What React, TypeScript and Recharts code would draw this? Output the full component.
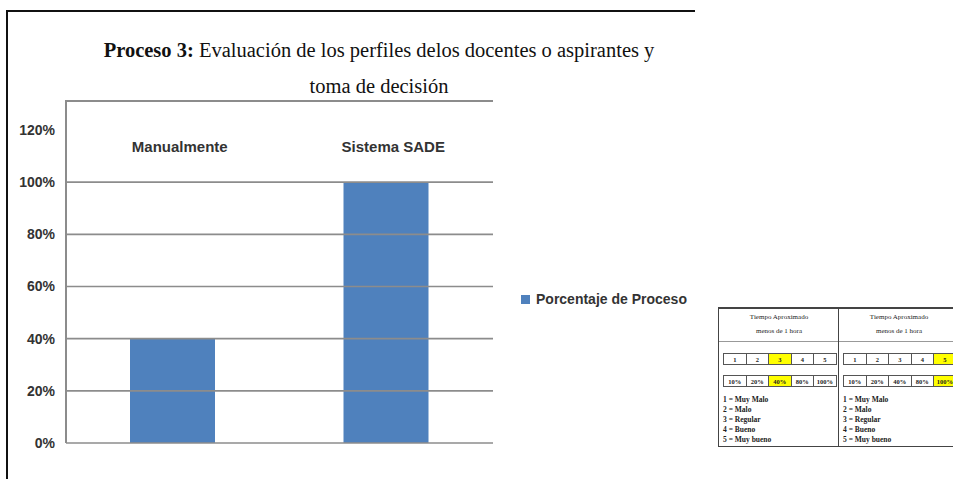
import React from "react";
import { BarChart, Bar, XAxis, YAxis, ReferenceLine, Legend } from "recharts";

// chart data
const categories = ["Manualmente", "Sistema SADE"];
const porcentajes = [0.4, 1.0];
const seriesName = "Porcentaje de Proceso";
const yTicks = [0, 0.2, 0.4, 0.6, 0.8, 1.0, 1.2];
const gridValues = [0, 0.2, 0.4, 0.6, 0.8, 1.0];

const titleBold = "Proceso 3:";
const titleRest = " Evaluación de los perfiles delos docentes o aspirantes y";
const titleLine2 = "toma de decisión";

// small scale table next to the chart
const escala = ["1", "2", "3", "4", "5"];
const escalaPct = ["10%", "20%", "40%", "80%", "100%"];
const escalaTexto = ["1 = Muy Malo", "2 = Malo", "3 = Regular", "4 = Bueno", "5 = Muy bueno"];
const seleccion = [2, 4];

const data = categories.map((name, i) => ({ name, value: porcentajes[i] }));

const sans = "'Liberation Sans', Arial, sans-serif";
const serif = "'Liberation Serif', 'Times New Roman', serif";
const barColor = "#4f81bd";
const gridColor = "#8c8c8c";

const CategoryTick = (props: any) => {
    const { x, y, payload } = props;
    return (
        <text
            x={x}
            y={y}
            dx={7}
            dy={22}
            textAnchor="middle"
            fontFamily={sans}
            fontWeight="bold"
            fontSize={15}
            fill="#333"
        >
            {payload.value}
        </text>
    );
};

const LegendContent = () => (
    <div
        style={{
            display: "flex",
            alignItems: "center",
            whiteSpace: "nowrap",
            fontFamily: sans,
            fontWeight: "bold",
            fontSize: 14,
            color: "#333",
            lineHeight: "20px",
        }}
    >
        <span
            style={{
                display: "inline-block",
                width: 9,
                height: 9,
                background: barColor,
                marginRight: 6,
            }}
        />
        {seriesName}
    </div>
);

const Casilla = ({ text, on, w }: { text: string; on: boolean; w: number }) => (
    <div
        style={{
            width: w,
            height: 12,
            boxSizing: "border-box",
            border: "1px solid #555",
            marginLeft: -1,
            background: on ? "#ffff00" : "#fff",
            textAlign: "center",
            lineHeight: "11px",
            fontSize: 6.5,
            fontWeight: "bold",
        }}
    >
        {text}
    </div>
);

const TablaColumna = ({ left, sel }: { left: number; sel: number }) => (
    <div
        style={{
            position: "absolute",
            left,
            top: 0,
            width: 120,
            height: 138,
            borderLeft: "1.5px solid #444",
            fontFamily: serif,
            color: "#222",
        }}
    >
        <div
            style={{
                height: 33,
                borderBottom: "1px solid #999",
                textAlign: "center",
                fontSize: 7,
                lineHeight: "14px",
                paddingTop: 1,
                boxSizing: "border-box",
            }}
        >
            <div>Tiempo Aproximado</div>
            <div>menos de 1 hora</div>
        </div>
        <div style={{ position: "absolute", left: 5, top: 44, display: "flex" }}>
            {escala.map((t, i) => (
                <Casilla key={t} text={t} on={i === sel} w={23.5} />
            ))}
        </div>
        <div style={{ position: "absolute", left: 5, top: 66, display: "flex" }}>
            {escalaPct.map((t, i) => (
                <Casilla key={t} text={t} on={i === sel} w={23.5} />
            ))}
        </div>
        <div
            style={{
                position: "absolute",
                left: 4,
                top: 86,
                fontSize: 7.5,
                fontWeight: "bold",
                lineHeight: "10px",
            }}
        >
            {escalaTexto.map((t) => (
                <div key={t}>{t}</div>
            ))}
        </div>
    </div>
);

export default function App() {
    return (
        <div
            style={{
                position: "absolute",
                left: 0,
                top: 0,
                width: 953,
                height: 479,
                overflow: "hidden",
                background: "#fff",
            }}
        >
            {/* outer frame */}
            <div
                style={{
                    position: "absolute",
                    left: 6,
                    top: 10,
                    width: 687,
                    height: 480,
                    borderLeft: "2px solid #111",
                    borderTop: "2px solid #111",
                }}
            />
            {/* title */}
            <div
                style={{
                    position: "absolute",
                    left: 79,
                    top: 32,
                    width: 600,
                    textAlign: "center",
                    fontFamily: serif,
                    fontSize: 20.5,
                    lineHeight: "36px",
                    color: "#111",
                }}
            >
                <div>
                    <b>{titleBold}</b>
                    {titleRest}
                </div>
                <div>{titleLine2}</div>
            </div>
            {/* plot area border */}
            <div
                style={{
                    position: "absolute",
                    left: 65,
                    top: 100,
                    width: 428,
                    height: 343,
                    borderTop: `2px solid ${gridColor}`,
                    borderLeft: `2px solid ${gridColor}`,
                    boxSizing: "border-box",
                }}
            />
            <div
                style={{
                    position: "absolute",
                    left: 8,
                    top: 10,
                    width: 685,
                    height: 460,
                    overflow: "hidden",
                }}
            >
                <BarChart
                    width={685}
                    height={460}
                    data={data}
                    margin={{ top: 90, right: 200, bottom: 27, left: 0 }}
                    barSize={85}
                >
                    <XAxis
                        dataKey="name"
                        orientation="top"
                        height={30}
                        axisLine={false}
                        tickLine={false}
                        tickSize={0}
                        tickMargin={0}
                        tick={<CategoryTick />}
                        interval={0}
                    />
                    <YAxis
                        type="number"
                        domain={[0, 1.2]}
                        ticks={yTicks}
                        width={58}
                        axisLine={false}
                        tickLine={false}
                        tickSize={0}
                        tickMargin={11}
                        tickFormatter={(v: number) => `${Math.round(v * 100)}%`}
                        tick={{ fontFamily: sans, fontWeight: "bold", fontSize: 14, fill: "#333" }}
                    />
                    {gridValues.map((v) => (
                        <ReferenceLine key={v} y={v} stroke={gridColor} strokeWidth={1.6} />
                    ))}
                    <Bar dataKey="value" name={seriesName} fill={barColor} isAnimationActive={false} />
                    <Legend
                        layout="vertical"
                        align="center"
                        verticalAlign="middle"
                        content={<LegendContent />}
                        wrapperStyle={{ left: 513, top: 279, width: "auto" }}
                    />
                </BarChart>
            </div>
            {/* scale table */}
            <div
                style={{
                    position: "absolute",
                    left: 718,
                    top: 307,
                    width: 245,
                    height: 140,
                    borderTop: "2px solid #444",
                    borderBottom: "1.5px solid #444",
                    boxSizing: "border-box",
                }}
            >
                <TablaColumna left={0} sel={seleccion[0]} />
                <TablaColumna left={120} sel={seleccion[1]} />
            </div>
        </div>
    );
}
